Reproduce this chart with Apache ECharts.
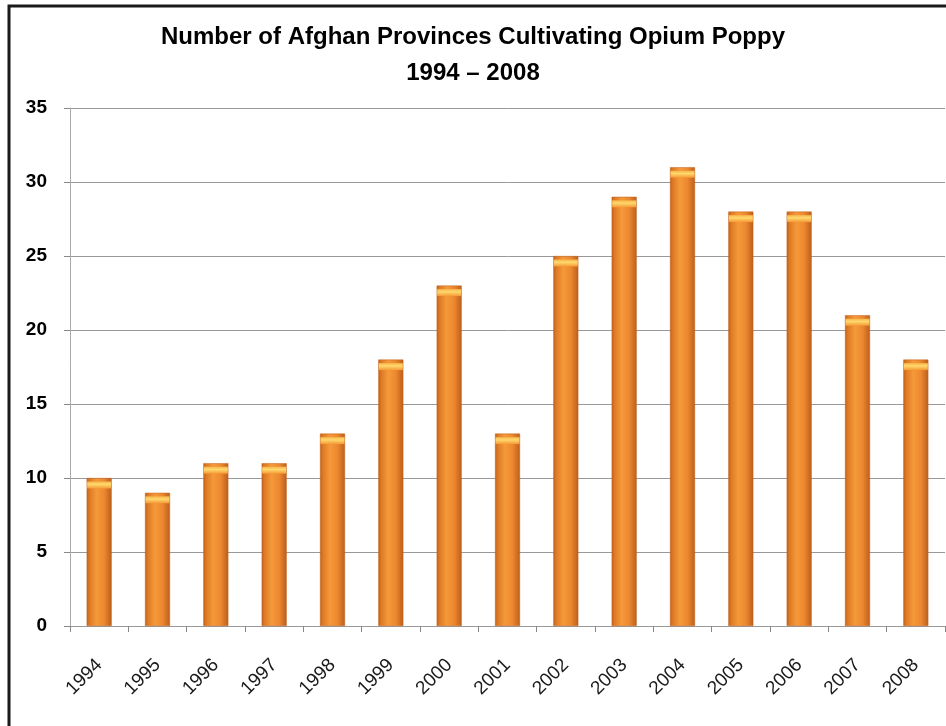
<!DOCTYPE html>
<html><head><meta charset="utf-8">
<script src="https://cdn.jsdelivr.net/npm/echarts@6/dist/echarts.min.js"></script>
<style>html,body{margin:0;padding:0;background:#fff}#c{width:946px;height:726px}</style>
</head><body><div id="c"></div>
<script>
const years = ['1994','1995','1996','1997','1998','1999','2000','2001','2002','2003','2004','2005','2006','2007','2008'];
const provinces = [10, 9, 11, 11, 13, 18, 23, 13, 25, 29, 31, 28, 28, 21, 18];
const yTicks = {min: 0, max: 35, interval: 5};
const titleLines = ['Number of Afghan Provinces Cultivating Opium Poppy', '1994 \u2013 2008'];

const chart = echarts.init(document.getElementById('c'));
const barFill = new echarts.graphic.LinearGradient(0, 0, 1, 0, [
  {offset: 0, color: '#c4601b'},
  {offset: 0.12, color: '#de7b25'},
  {offset: 0.4, color: '#f5993a'},
  {offset: 0.7, color: '#ec882f'},
  {offset: 1, color: '#bd5e1c'}
]);
const capFill = new echarts.graphic.LinearGradient(0, 0, 0, 1, [
  {offset: 0, color: '#f7b448'},
  {offset: 0.4, color: '#ffd86e'},
  {offset: 1, color: '#f59a35'}
]);
chart.setOption({
  animation: false,
  backgroundColor: '#fff',
  title: {
    text: titleLines.join('\n'),
    left: 'center', top: 14,
    textStyle: {fontFamily: 'Liberation Sans, sans-serif', fontWeight: 'bold', fontSize: 24, color: '#000', lineHeight: 36}
  },
  graphic: [{
    type: 'rect', silent: true, z: 100,
    shape: {x: 9, y: 6, width: 960, height: 760},
    style: {fill: 'none', stroke: '#1a1a1a', lineWidth: 3}
  }],
  grid: {left: 70, right: 1, top: 108, bottom: 100, containLabel: false},
  xAxis: {
    type: 'category', data: years,
    axisLine: {lineStyle: {color: '#999'}},
    axisTick: {show: true, length: 6, lineStyle: {color: '#888'}},
    axisLabel: {rotate: 45, fontSize: 19, color: '#1a1a1a', margin: 36, fontFamily: 'Liberation Sans, sans-serif'}
  },
  yAxis: {
    type: 'value', min: yTicks.min, max: yTicks.max, interval: yTicks.interval,
    axisLine: {show: true, lineStyle: {color: '#aaa'}},
    axisTick: {show: true, length: 6, lineStyle: {color: '#888'}},
    splitLine: {lineStyle: {color: '#999', width: 1}},
    axisLabel: {fontSize: 19, fontWeight: 'bold', color: '#000', margin: 23, fontFamily: 'Liberation Sans, sans-serif'}
  },
  series: [{
    type: 'bar', data: provinces, barWidth: 25,
    itemStyle: {color: barFill, borderColor: '#c0601c', borderWidth: 0.5}
  }, {
    type: 'pictorialBar', data: provinces, symbol: 'rect',
    symbolSize: [24, 7], symbolPosition: 'end', symbolOffset: [0, '50%'],
    itemStyle: {color: capFill}, z: 5, silent: true
  }]
});
</script></body></html>
